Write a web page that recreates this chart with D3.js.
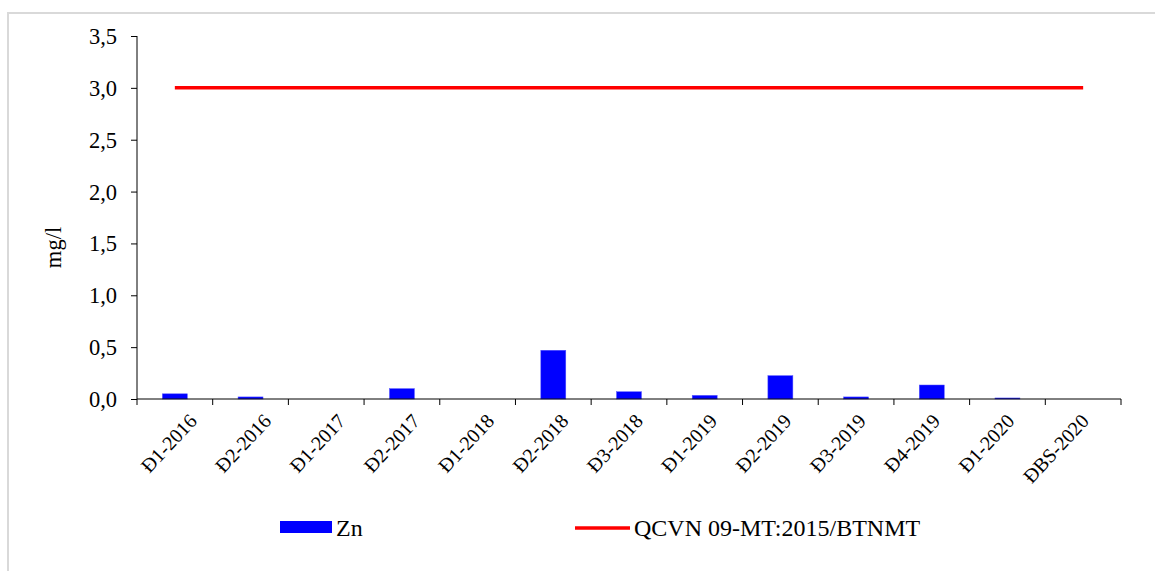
<!DOCTYPE html>
<html>
<head>
<meta charset="utf-8">
<title>Zn</title>
<script src="https://cdnjs.cloudflare.com/ajax/libs/d3/7.8.5/d3.min.js"></script>
<style>
    body { margin: 0; background: #fff; }
    svg, svg text { font-family: "Liberation Serif", "Times New Roman", serif !important; }
</style>
</head>
<body>
<div id="chart"></div>
<script>
    // data
    var categories = ["Đ1-2016", "Đ2-2016", "Đ1-2017", "Đ2-2017", "Đ1-2018", "Đ2-2018", "Đ3-2018",
                      "Đ1-2019", "Đ2-2019", "Đ3-2019", "Đ4-2019", "Đ1-2020", "ĐBS-2020"];
    var znValues = [0.05, 0.02, 0, 0.10, 0, 0.47, 0.07, 0.035, 0.225, 0.02, 0.135, 0.01, 0];
    var limitValue = 3.0;
    var yTicks = [0, 0.5, 1.0, 1.5, 2.0, 2.5, 3.0, 3.5];
    var seriesNames = ["Zn", "QCVN 09-MT:2015/BTNMT"];

    var width = 1155,
        height = 571;
    var margin = {left: 137, right: 34, top: 36, bottom: 172};

    var svg = d3.select("#chart").append("svg")
        .attr("width", width)
        .attr("height", height);

    // outer frame (only left/top edges are visible in the picture)
    svg.append("rect")
        .attr("x", 8).attr("y", 13)
        .attr("width", 1160).attr("height", 580)
        .attr("fill", "none")
        .attr("stroke", "#d9d9d9")
        .attr("stroke-width", 2);

    var x = d3.scaleBand()
        .domain(categories)
        .range([margin.left, width - margin.right])
        .paddingInner(0).paddingOuter(0);

    // labels sit a little tighter than the bands in the original
    var xLabel = d3.scalePoint()
        .domain(categories)
        .range([198, 1090]);

    var y = d3.scaleLinear()
        .domain([0, 3.5])
        .range([height - margin.bottom, margin.top]);

    var fmt = function(d) { return d3.format(".1f")(d).replace(".", ","); };

    // y axis
    var yAxis = svg.append("g")
        .attr("transform", "translate(" + margin.left + ",0)")
        .call(d3.axisLeft(y).tickValues(yTicks).tickFormat(fmt).tickSize(6).tickPadding(14));
    yAxis.attr("font-size", 22.5);
    yAxis.select(".domain").attr("d", "M0," + y(3.5) + "V" + y(0)).attr("stroke", "#000");
    yAxis.selectAll("text").attr("dy", "0.33em");

    // bars
    var barW = x.bandwidth() * 0.33;
    svg.selectAll("rect.bar")
        .data(znValues)
        .enter().append("rect")
        .attr("class", "bar")
        .attr("x", function(d, i) { return x(categories[i]) + (x.bandwidth() - barW) / 2; })
        .attr("y", function(d) { return y(d); })
        .attr("width", barW)
        .attr("height", function(d) { return y(0) - y(d); })
        .attr("fill", "#0000ff")
        .attr("stroke", "#5555ff")
        .attr("stroke-width", 0.5);

    // x axis, ticks on band edges
    var xg = svg.append("g").attr("transform", "translate(0," + y(0) + ")");
    xg.append("line")
        .attr("x1", margin.left).attr("x2", width - margin.right)
        .attr("stroke", "#000");
    var edges = categories.map(function(c) { return x(c); }).concat([x.range()[1]]);
    xg.selectAll("line.tick")
        .data(edges)
        .enter().append("line")
        .attr("class", "tick")
        .attr("x1", function(d) { return d; }).attr("x2", function(d) { return d; })
        .attr("y1", 0).attr("y2", 6)
        .attr("stroke", "#000");
    xg.selectAll("text")
        .data(categories)
        .enter().append("text")
        .attr("text-anchor", "end")
        .attr("transform", function(d) {
            return "translate(" + xLabel(d) + ",23) rotate(-47)";
        })
        .attr("font-size", 20)
        .text(function(d) { return d; });

    // limit line
    var line = d3.line()
        .x(function(d) { return x(d) + x.bandwidth() / 2; })
        .y(function() { return y(limitValue); });
    svg.append("path")
        .datum(categories)
        .attr("d", line)
        .attr("fill", "none")
        .attr("stroke", "#ff0000")
        .attr("stroke-width", 3.5);

    // y label
    svg.append("text")
        .attr("transform", "translate(61," + ((y(0) + y(3.5)) / 2 + 30) + ") rotate(-90)")
        .attr("text-anchor", "middle")
        .attr("font-size", 22.5)
        .text("mg/l");

    // legend
    var lg = svg.append("g");
    lg.append("rect")
        .attr("x", 280).attr("y", 521)
        .attr("width", 52).attr("height", 12)
        .attr("fill", "#0000ff");
    lg.append("text")
        .attr("x", 336).attr("y", 536)
        .attr("font-size", 24)
        .text(seriesNames[0]);
    lg.append("line")
        .attr("x1", 575).attr("x2", 630)
        .attr("y1", 528).attr("y2", 528)
        .attr("stroke", "#ff0000")
        .attr("stroke-width", 3.5);
    lg.append("text")
        .attr("x", 634).attr("y", 536)
        .attr("font-size", 24)
        .text(seriesNames[1]);
</script>
</body>
</html>
